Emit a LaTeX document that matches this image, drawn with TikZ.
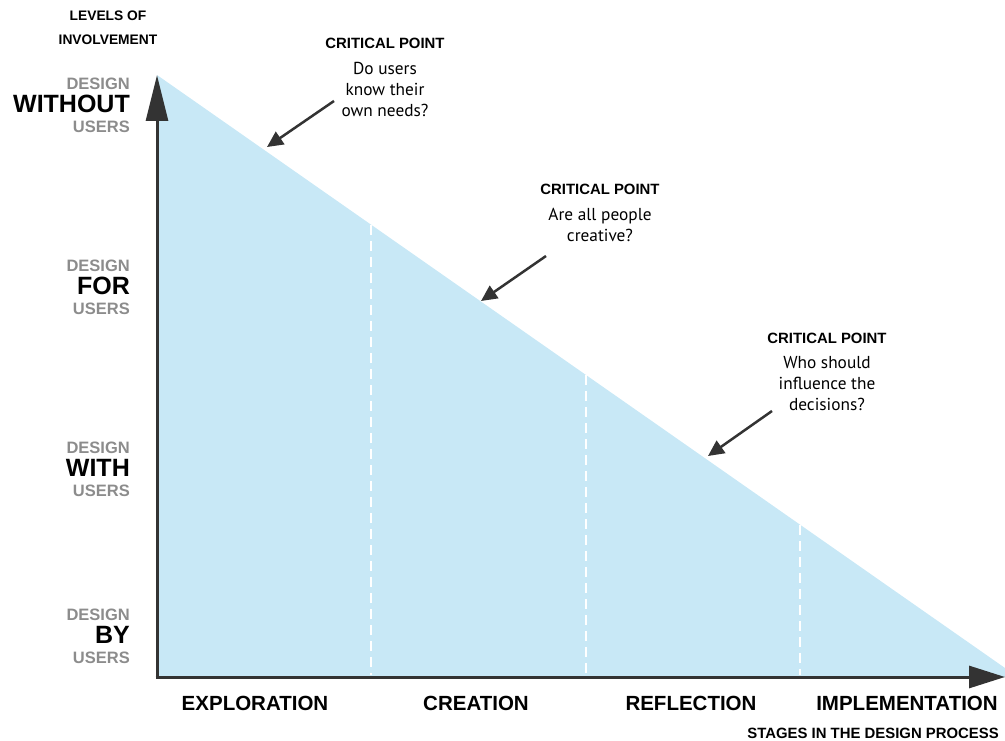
\documentclass[tikz,border=0pt]{standalone}
\usepackage{fontspec}
\setmainfont{Liberation Sans}
\newfontfamily\questionfont{PT Sans}
\usetikzlibrary{arrows.meta}

\definecolor{sky}{HTML}{C8E8F6}
\definecolor{axisgray}{HTML}{333333}
\definecolor{labelgray}{HTML}{8C8C8C}

\begin{document}
\begin{tikzpicture}[x=1pt, y=-1pt,
        axis/.style={draw=axisgray, line width=3pt},
        pointer/.style={draw=axisgray, line width=2.5pt, -{Triangle[length=16pt, width=15pt]}},
        divider/.style={draw=white, line width=2pt, dash pattern=on 10pt off 6pt},
        minor/.style={font=\fontsize{16.5}{18}\bfseries, text=labelgray, inner sep=0pt},
        major/.style={font=\fontsize{25}{28}\bfseries, inner sep=0pt},
        stage/.style={font=\fontsize{20.5}{24}\bfseries, inner sep=0pt},
        caption/.style={font=\fontsize{14.9}{16}\bfseries, inner sep=0pt},
        question/.style={font=\questionfont\fontsize{17.3}{21}\selectfont, align=center, inner sep=0pt}
    ]
    \useasboundingbox (0,0) rectangle (1005,741);

    % corners of the involvement triangle
    \coordinate (origin) at (157,677);
    \coordinate (apex) at (157,75);
    \coordinate (tip) at (1005,668);
    \coordinate (xend) at (1005,677);

    \fill[sky] (origin) -- (apex) -- (tip) -- (xend) -- cycle;

    % stage borders
    \foreach \x in {371,586,800}
        \draw[divider] (\x,{75+(\x-157)*0.6993}) -- (\x,675);

    % axes
    \draw[axis, -{Triangle[length=46pt, width=22pt]}] (origin) -- (apex);
    \draw[axis, -{Triangle[length=36pt, width=22pt]}] ([xshift=-1.5pt]origin) -- (xend);

    % levels of involvement
    \node[caption, font=\fontsize{13.8}{16}\bfseries, anchor=base] (levels) at (108,21) {LEVELS OF};
    \node[caption, font=\fontsize{13.8}{16}\bfseries, anchor=base] (involvement) at (108,45) {INVOLVEMENT};
    \foreach \word/\y in {WITHOUT/90, FOR/271, WITH/453, BY/620} {
        \node[minor, anchor=base east] (design-\word) at (130,\y) {DESIGN};
        \node[major, anchor=base east] (level-\word) at (130,\y+23) {\word};
        \node[minor, anchor=base east] (users-\word) at (130,\y+43) {USERS};
    }

    % stages
    \node[stage, anchor=base] (exploration) at (255,710.5) {EXPLORATION};
    \node[stage, anchor=base] (creation) at (476,710.5) {CREATION};
    \node[stage, anchor=base] (reflection) at (691,710.5) {REFLECTION};
    \node[stage, anchor=base] (implementation) at (907,710.5) {IMPLEMENTATION};
    \node[caption, anchor=base east] (stages) at (999,738.5) {STAGES IN THE DESIGN PROCESS};

    % critical points
    \node[caption, anchor=base] (crit1) at (385,49) {CRITICAL POINT};
    \node[question, anchor=north] (q1) at (385,62) {Do users\\know their\\own needs?};
    \node[caption, anchor=base] (crit2) at (600,195) {CRITICAL POINT};
    \node[question, anchor=north] (q2) at (600,208) {Are all people\\creative?};
    \node[caption, anchor=base] (crit3) at (827,343) {CRITICAL POINT};
    \node[question, anchor=north] (q3) at (827,356) {Who should\\influence the\\decisions?};

    \coordinate (from1) at (334,101);
    \coordinate (to1) at (267,147);
    \coordinate (from2) at (546,256);
    \coordinate (to2) at (481,301);
    \coordinate (from3) at (772,411);
    \coordinate (to3) at (708,456);
    \draw[pointer] (from1) -- (to1);
    \draw[pointer] (from2) -- (to2);
    \draw[pointer] (from3) -- (to3);
\end{tikzpicture}
\end{document}
